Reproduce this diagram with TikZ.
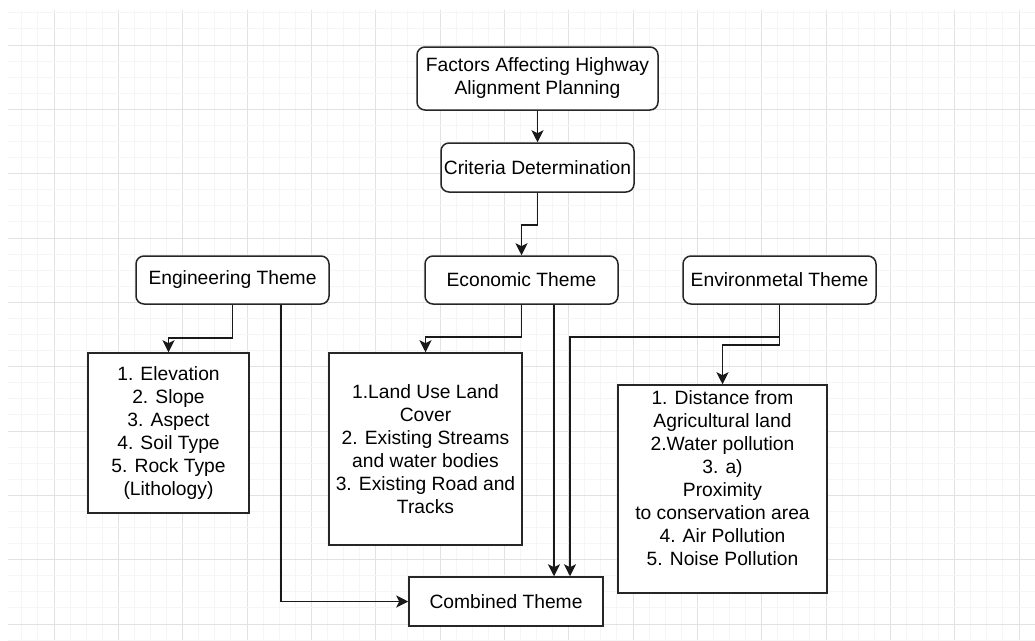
\documentclass[tikz,border=0pt]{standalone}
\usepackage{fontspec}
\setmainfont{Liberation Sans}
\usetikzlibrary{arrows.meta}
\definecolor{gridminor}{HTML}{F5F5F5}
\definecolor{gridmajor}{HTML}{E2E2E2}
\tikzset{
  basebox/.style={draw=black!85, line width=1.5pt, fill=white, inner sep=0pt, align=center,
    font=\fontsize{19.25}{23}\selectfont},
  rbox/.style={basebox, rounded corners=8pt},
  sbox/.style={basebox},
  txt/.style={inner sep=0pt, align=center, font=\fontsize{19.25}{23}\selectfont},
  arr/.style={draw=black!90, line width=1.5pt, -{Stealth[length=12pt,width=12pt,inset=3pt]}},
}
\begin{document}
\begin{tikzpicture}[x=1pt,y=-1pt]
\useasboundingbox (0,0) rectangle (1035,640);
\fill[white] (0,0) rectangle (1035,640);
% grid
\foreach \i in {-2,...,61}{
  \pgfmathsetmacro{\xx}{54+\i*16.0833}
  \pgfmathtruncatemacro{\m}{mod(\i+8,4)}
  \ifnum\m=0\relax
    \draw[gridmajor, line width=0.9pt] (\xx,10) -- (\xx,640);
  \else
    \draw[gridminor, line width=0.9pt] (\xx,10) -- (\xx,640);
  \fi
}
\foreach \j in {-2,...,37}{
  \pgfmathsetmacro{\yy}{45+\j*16.0833}
  \pgfmathtruncatemacro{\m}{mod(\j+8,4)}
  \ifnum\m=0\relax
    \draw[gridmajor, line width=0.9pt] (8,\yy) -- (1035,\yy);
  \else
    \draw[gridminor, line width=0.9pt] (8,\yy) -- (1035,\yy);
  \fi
}
% nodes
\node[rbox, minimum width=241pt, minimum height=63pt] (fac) at (537.5,78.5) {Factors Affecting Highway\\Alignment Planning};
\node[rbox, minimum width=193pt, minimum height=49pt] (crit) at (537.5,167.5) {Criteria Determination};
\node[rbox, minimum width=193pt, minimum height=48pt] (eng) at (232.5,280) {Engineering Theme};
\node[rbox, minimum width=193pt, minimum height=48pt] (econ) at (521.5,280) {Economic Theme};
\node[rbox, minimum width=193pt, minimum height=48pt] (env) at (779.5,280) {Environmetal Theme};
\node[sbox, minimum width=161pt, minimum height=160pt] (englist) at (168.5,433) {1. Elevation\\2. Slope\\3. Aspect\\4. Soil Type\\5. Rock Type\\(Lithology)};
\node[sbox, minimum width=193pt, minimum height=192pt] (econlist) at (425.5,449) {1.Land Use Land\\Cover\\2. Existing Streams\\and water bodies\\3. Existing Road and\\Tracks};
\node[sbox, minimum width=209pt, minimum height=208pt] (envlist) at (722.5,489) {};
\node[txt] (envtxt) at (722.5,478.5) {1. Distance from\\Agricultural land\\2.Water pollution\\3. a)\hspace{19pt}\\Proximity\\to conservation area\\4. Air Pollution\\5. Noise Pollution};
\node[sbox, minimum width=194pt, minimum height=49pt] (comb) at (506,601.5) {Combined Theme};
% connectors
\draw[arr] (fac.south) -- (crit.north);
\draw[arr] (crit.south) -- ++(0,32) -| (econ.north);
\draw[arr] (eng.south) -- ++(0,33) -| (englist.north);
\draw[arr] ([xshift=48.5pt]eng.south) |- (comb.west);
\draw[arr] (econ.south) -- ++(0,32) -| (econlist.north);
\draw[arr] ([xshift=32.5pt]econ.south) -- ([xshift=32.5pt]econ.south |- comb.north);
\draw[arr] (env.south) -- ++(0,32) -| ([xshift=64pt]comb.north);
\draw[arr] (env.south) -- ++(0,40) -| (envlist.north);
\end{tikzpicture}
\end{document}
